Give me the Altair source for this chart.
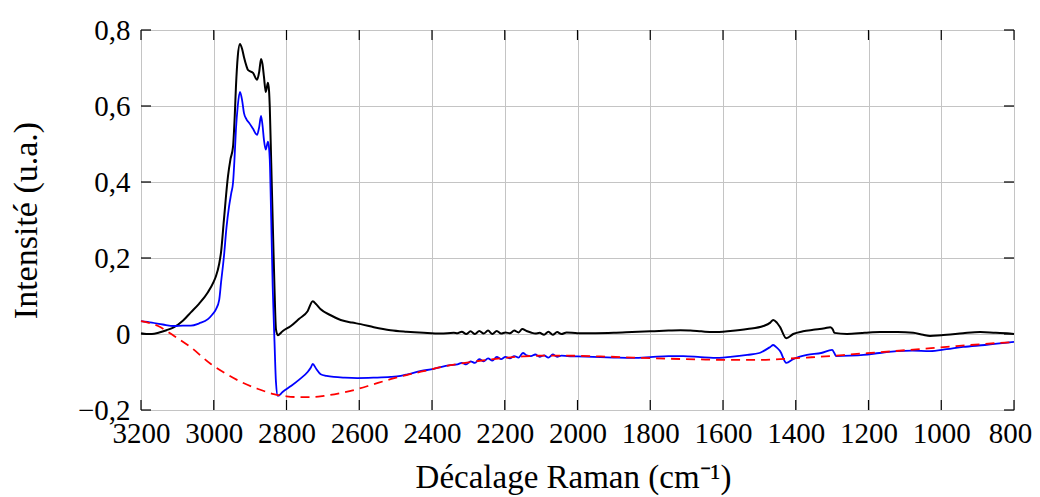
import altair as alt
import pandas as pd

# ---- data ----
black_x = [3200, 3185, 3170, 3150, 3130, 3109, 3085, 3063, 3040, 3016, 3000, 2994, 2985, 2980, 2972,
           2961, 2954, 2947, 2942, 2939, 2934, 2928, 2922, 2917, 2910, 2906, 2892, 2881, 2875, 2870,
           2866, 2862, 2857, 2851, 2848, 2846, 2842, 2838, 2833, 2829, 2824, 2810, 2788, 2765, 2742,
           2728, 2718, 2706, 2680, 2651, 2620, 2596, 2560, 2514, 2470, 2423, 2376, 2340,
           2330, 2318, 2306, 2294, 2282, 2270, 2258, 2246, 2234, 2222, 2210, 2198, 2186, 2174, 2162,
           2152, 2140, 2128, 2116, 2104, 2092, 2080, 2068, 2056, 2044, 2030, 2000, 1950, 1900, 1850,
           1800, 1750, 1717, 1690, 1660, 1627, 1580, 1533, 1489, 1470, 1462, 1452, 1443, 1426, 1407,
           1380, 1352, 1320, 1305, 1298, 1294, 1259, 1210, 1168, 1120, 1077, 1050, 1031, 1000, 985,
           940, 893, 850, 820, 800]
black_y = [0.002, 0.0, 0.0, 0.004, 0.010, 0.018, 0.035, 0.057, 0.080, 0.110, 0.138, 0.152, 0.185, 0.215, 0.301,
           0.414, 0.460, 0.493, 0.580, 0.650, 0.730, 0.763, 0.750, 0.729, 0.705, 0.695, 0.687, 0.669, 0.690, 0.724,
           0.710, 0.677, 0.637, 0.661, 0.640, 0.598, 0.450, 0.301, 0.120, 0.013, -0.003, 0.008, 0.021, 0.040, 0.060,
           0.086, 0.078, 0.065, 0.050, 0.037, 0.030, 0.026, 0.018, 0.010, 0.006, 0.003, 0.001, 0.003,
           0.002, 0.006, 0.000, 0.007, 0.000, 0.008, 0.001, 0.009, 0.000, 0.008, 0.001, 0.004, 0.002, 0.009, 0.004,
           0.013, 0.008, 0.004, 0.001, 0.003, -0.002, 0.006, -0.002, 0.005, 0.000, 0.004, 0.002, 0.002, 0.003, 0.005,
           0.007, 0.009, 0.010, 0.009, 0.007, 0.005, 0.008, 0.013, 0.021, 0.030, 0.037, 0.030, 0.018, -0.011, 0.000,
           0.007, 0.011, 0.015, 0.018, 0.012, 0.003, 0.000, 0.003, 0.005, 0.005, 0.003, -0.002, -0.005, -0.003, -0.002,
           0.002, 0.005, 0.003, 0.002, 0.000]

blue_x = [3200, 3170, 3140, 3109, 3085, 3063, 3040, 3016, 3005, 2994, 2985, 2980, 2972, 2965, 2958,
          2952, 2947, 2943, 2939, 2934, 2928, 2922, 2917, 2910, 2903, 2892, 2881, 2875, 2870, 2866,
          2862, 2857, 2851, 2848, 2846, 2842, 2838, 2833, 2829, 2824, 2810, 2788, 2765, 2742, 2733,
          2728, 2718, 2706, 2690, 2670, 2640, 2605, 2560, 2514, 2486, 2467, 2430, 2395, 2376, 2350,
          2330, 2318, 2306, 2294, 2282, 2270, 2258, 2246, 2234, 2222, 2210, 2198, 2186, 2174, 2162,
          2150, 2140, 2128, 2116, 2104, 2092, 2080, 2068, 2056, 2044, 2028, 2000, 1937, 1900, 1846,
          1800, 1750, 1709, 1662, 1627, 1580, 1533, 1500, 1489, 1470, 1462, 1452, 1443, 1426, 1407,
          1369, 1330, 1300, 1294, 1289, 1250, 1214, 1170, 1122, 1080, 1031, 985, 940, 880, 800]
blue_y = [0.034, 0.030, 0.025, 0.021, 0.022, 0.022, 0.028, 0.039, 0.050, 0.065, 0.090, 0.135, 0.204, 0.280, 0.335,
          0.370, 0.398, 0.460, 0.538, 0.600, 0.637, 0.615, 0.582, 0.565, 0.556, 0.540, 0.524, 0.545, 0.574, 0.550,
          0.511, 0.485, 0.506, 0.490, 0.459, 0.300, 0.126, -0.020, -0.126, -0.163, -0.152, -0.137, -0.120, -0.100, -0.088,
          -0.079, -0.092, -0.106, -0.110, -0.113, -0.115, -0.116, -0.115, -0.113, -0.110, -0.106, -0.097, -0.092, -0.087, -0.082,
          -0.080, -0.076, -0.080, -0.072, -0.076, -0.066, -0.072, -0.064, -0.070, -0.060, -0.066, -0.060, -0.064, -0.058, -0.062,
          -0.050, -0.056, -0.058, -0.054, -0.060, -0.056, -0.062, -0.054, -0.060, -0.057, -0.058, -0.059, -0.061, -0.062, -0.063,
          -0.061, -0.058, -0.058, -0.061, -0.063, -0.060, -0.055, -0.050, -0.045, -0.034, -0.029, -0.036, -0.045, -0.076, -0.066,
          -0.055, -0.050, -0.042, -0.050, -0.058, -0.057, -0.055, -0.050, -0.045, -0.044, -0.045, -0.040, -0.034, -0.029, -0.021]

red_x = [3200, 3153, 3109, 3063, 3008, 2960, 2925, 2880, 2835, 2800, 2769, 2730, 2697, 2650, 2605,
         2560, 2514, 2470, 2423, 2376, 2330, 2280, 2211, 2150, 2100, 2028, 1937, 1846, 1750, 1662,
         1580, 1500, 1443, 1370, 1305, 1240, 1168, 1077, 985, 893, 800]
red_y = [0.034, 0.021, -0.005, -0.035, -0.079, -0.108, -0.126, -0.144, -0.158, -0.164, -0.166, -0.166, -0.163, -0.155, -0.145,
         -0.132, -0.119, -0.108, -0.098, -0.087, -0.079, -0.072, -0.064, -0.059, -0.057, -0.057, -0.059, -0.062, -0.065, -0.067,
         -0.068, -0.068, -0.066, -0.062, -0.058, -0.053, -0.048, -0.041, -0.034, -0.027, -0.021]

x_ticks = [3200, 3000, 2800, 2600, 2400, 2200, 2000, 1800, 1600, 1400, 1200, 1000, 800]
y_ticks = [-0.2, 0.0, 0.2, 0.4, 0.6, 0.8]

x_title = "Décalage Raman (cm⁻¹)"
y_title = "Intensité (u.a.)"

W, H = 873, 380
FONT = "Liberation Serif"
GRID = "#c4c4c4"

x_scale = alt.Scale(domain=[800, 3200], reverse=True, nice=False, zero=False)
y_scale = alt.Scale(domain=[-0.2, 0.8], nice=False, zero=False)

x_axis = alt.Axis(values=x_ticks, format="d", grid=True, gridColor=GRID, gridWidth=1,
                  ticks=False, domain=False, labelFont=FONT, labelFontSize=29, labelColor="black",
                  labelPadding=32, labelBaseline="alphabetic", labelOverlap=False, labelFlush=False,
                  labelOffset=alt.condition("datum.value == 800", alt.value(-4), alt.value(0)),
                  title=x_title, titleFont=FONT, titleFontSize=33, titleFontWeight="normal",
                  titleColor="black", titleX=432, titleY=77, titleBaseline="alphabetic",
                  titleAlign="center")
y_axis = alt.Axis(values=y_ticks, grid=True, gridColor=GRID, gridWidth=1,
                  ticks=False, domain=False, labelFont=FONT, labelFontSize=29, labelColor="black",
                  labelPadding=11, labelBaseline="middle", labelOverlap=False, labelFlush=False,
                  labelExpr="datum.value == 0 ? '0' : replace(replace(format(datum.value, '.1f'), '.', ','), '-', '\u2212')",
                  title=y_title, titleFont=FONT, titleFontSize=34, titleFontWeight="normal",
                  titleColor="black", titleAngle=270, titleX=-115, titleY=H / 2,
                  titleBaseline="middle", titleAlign="center")

black_df = pd.DataFrame({"x": black_x, "y": black_y})
blue_df = pd.DataFrame({"x": blue_x, "y": blue_y})
red_df = pd.DataFrame({"x": red_x, "y": red_y})
xt_df = pd.DataFrame({"x": x_ticks})
yt_df = pd.DataFrame({"y": y_ticks})

black = alt.Chart(black_df).mark_line(color="black", strokeWidth=2, interpolate="monotone").encode(
    x=alt.X("x:Q", scale=x_scale, axis=x_axis),
    y=alt.Y("y:Q", scale=y_scale, axis=y_axis),
)
blue = alt.Chart(blue_df).mark_line(color="#0000ff", strokeWidth=1.8, interpolate="monotone").encode(
    x=alt.X("x:Q", scale=x_scale), y=alt.Y("y:Q", scale=y_scale))
red = alt.Chart(red_df).mark_line(color="#ff0000", strokeWidth=1.8, strokeDash=[9, 6],
                                  interpolate="monotone").encode(
    x=alt.X("x:Q", scale=x_scale), y=alt.Y("y:Q", scale=y_scale))

TL = 10
tick_style = dict(color="black", strokeWidth=1.2)
xt_bottom = alt.Chart(xt_df).mark_rule(**tick_style).encode(
    x=alt.X("x:Q", scale=x_scale), y=alt.value(H), y2=alt.value(H - TL))
xt_top = alt.Chart(xt_df).mark_rule(**tick_style).encode(
    x=alt.X("x:Q", scale=x_scale), y=alt.value(0), y2=alt.value(TL))
yt_left = alt.Chart(yt_df).mark_rule(**tick_style).encode(
    y=alt.Y("y:Q", scale=y_scale), x=alt.value(0), x2=alt.value(TL))
yt_right = alt.Chart(yt_df).mark_rule(**tick_style).encode(
    y=alt.Y("y:Q", scale=y_scale), x=alt.value(W), x2=alt.value(W - TL))

chart = alt.layer(black, blue, red, xt_bottom, xt_top, yt_left, yt_right).properties(
    width=W, height=H,
    autosize=alt.AutoSizeParams(type="none"),
    padding={"left": 133, "top": 22, "right": 18, "bottom": 90},
).configure_view(stroke="black", strokeWidth=1.3).configure(background="white")

chart.save("out.html", embed_options={"renderer": "svg", "actions": False})
